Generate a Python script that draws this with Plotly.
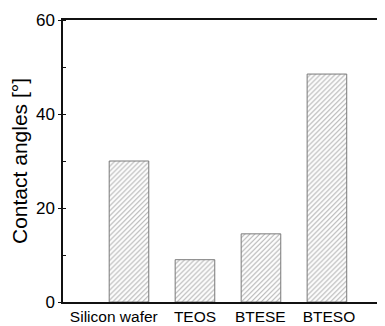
import plotly.graph_objects as go

categories = ["Silicon wafer", "TEOS", "BTESE", "BTESO"]
contact_angles = [30.0, 9.0, 14.5, 48.5]
y_tick_values = [0, 20, 40, 60]
y_tick_labels = ["0", "20", "40", "60"]

idx = list(range(len(categories)))
label_shift = [-0.23, 0.0, -0.01, 0.03]

fig = go.Figure()
fig.add_trace(go.Bar(
    x=idx,
    y=contact_angles,
    width=0.6,
    marker=dict(
        color="white",
        line=dict(color="#7a7a7a", width=1),
        pattern=dict(shape="/", fgcolor="#606060", bgcolor="white", size=3.5, solidity=0.3),
    ),
    showlegend=False,
))

# page has ~8px body margin; figure sized to fit the 385x326 window
fig.update_layout(
    width=377,
    height=318,
    margin=dict(l=55, r=0, t=12, b=24, autoexpand=False),
    paper_bgcolor="white",
    plot_bgcolor="white",
    font=dict(family="Liberation Sans, Arial, sans-serif", color="#000", size=16),
)
fig.update_xaxes(
    range=[-1.0, 3.88],
    tickmode="array",
    tickvals=[i + s for i, s in zip(idx, label_shift)],
    ticktext=categories,
    ticks="",
    showline=True,
    linecolor="#111",
    linewidth=1.5,
    mirror=True,
    showgrid=False,
    zeroline=False,
    tickfont=dict(size=15.5, color="#000"),
    automargin=False,
)
fig.update_yaxes(
    range=[0, 60],
    tickmode="array",
    tickvals=y_tick_values,
    ticktext=y_tick_labels,
    ticks="outside",
    ticklen=3,
    tickwidth=1,
    tickcolor="#111",
    minor=dict(ticks="inside", ticklen=3, tickcolor="#111", dtick=10, tick0=0),
    showline=True,
    linecolor="#111",
    linewidth=1.5,
    showgrid=False,
    zeroline=False,
    tickfont=dict(size=17, color="#000"),
    title=dict(text="Contact angles [°]", font=dict(size=21, color="#000"), standoff=8),
    automargin=False,
)

fig.write_html("out.html")
